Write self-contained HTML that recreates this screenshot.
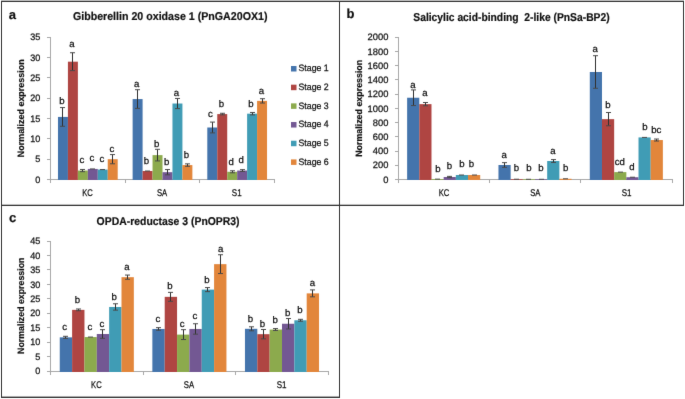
<!DOCTYPE html>
<html><head><meta charset="utf-8"><title>Figure</title>
<style>
html,body{margin:0;padding:0;background:#fff;}
body{width:685px;height:399px;overflow:hidden;}
svg{display:block;font-family:"Liberation Sans", sans-serif;will-change:transform;text-rendering:geometricPrecision;}
</style></head>
<body>
<svg width="685" height="399" viewBox="0 0 685 399">
<defs><filter id="soft" x="0" y="0" width="685" height="399" filterUnits="userSpaceOnUse" color-interpolation-filters="sRGB"><feConvolveMatrix order="3" kernelMatrix="0.0052 0.0619 0.0052 0.0619 0.7314 0.0619 0.0052 0.0619 0.0052" divisor="1" preserveAlpha="false"/></filter></defs>
<rect x="0" y="0" width="685" height="399" fill="#ffffff"/>
<g filter="url(#soft)">
<rect x="50" y="37" width="1" height="146" fill="#a8a8a8"/>
<rect x="50" y="179" width="225" height="1" fill="#a8a8a8"/>
<rect x="47" y="179" width="3" height="1" fill="#a8a8a8"/>
<text x="40.3" y="182.6" font-size="9.4" text-anchor="end" font-weight="normal" fill="#111111" textLength="5.05" lengthAdjust="spacingAndGlyphs" stroke="#111111" stroke-width="0.25">0</text>
<rect x="47" y="159" width="3" height="1" fill="#a8a8a8"/>
<text x="40.3" y="162.29" font-size="9.4" text-anchor="end" font-weight="normal" fill="#111111" textLength="5.05" lengthAdjust="spacingAndGlyphs" stroke="#111111" stroke-width="0.25">5</text>
<rect x="47" y="138" width="3" height="1" fill="#a8a8a8"/>
<text x="40.3" y="141.97" font-size="9.4" text-anchor="end" font-weight="normal" fill="#111111" textLength="10.1" lengthAdjust="spacingAndGlyphs" stroke="#111111" stroke-width="0.25">10</text>
<rect x="47" y="118" width="3" height="1" fill="#a8a8a8"/>
<text x="40.3" y="121.66" font-size="9.4" text-anchor="end" font-weight="normal" fill="#111111" textLength="10.1" lengthAdjust="spacingAndGlyphs" stroke="#111111" stroke-width="0.25">15</text>
<rect x="47" y="98" width="3" height="1" fill="#a8a8a8"/>
<text x="40.3" y="101.34" font-size="9.4" text-anchor="end" font-weight="normal" fill="#111111" textLength="10.1" lengthAdjust="spacingAndGlyphs" stroke="#111111" stroke-width="0.25">20</text>
<rect x="47" y="77" width="3" height="1" fill="#a8a8a8"/>
<text x="40.3" y="81.03" font-size="9.4" text-anchor="end" font-weight="normal" fill="#111111" textLength="10.1" lengthAdjust="spacingAndGlyphs" stroke="#111111" stroke-width="0.25">25</text>
<rect x="47" y="57" width="3" height="1" fill="#a8a8a8"/>
<text x="40.3" y="60.71" font-size="9.4" text-anchor="end" font-weight="normal" fill="#111111" textLength="10.1" lengthAdjust="spacingAndGlyphs" stroke="#111111" stroke-width="0.25">30</text>
<rect x="47" y="37" width="3" height="1" fill="#a8a8a8"/>
<text x="40.3" y="40.4" font-size="9.4" text-anchor="end" font-weight="normal" fill="#111111" textLength="10.1" lengthAdjust="spacingAndGlyphs" stroke="#111111" stroke-width="0.25">35</text>
<rect x="50" y="180" width="1" height="3" fill="#a8a8a8"/>
<rect x="125" y="180" width="1" height="3" fill="#a8a8a8"/>
<rect x="199" y="180" width="1" height="3" fill="#a8a8a8"/>
<rect x="274" y="180" width="1" height="3" fill="#a8a8a8"/>
<rect x="57.97" y="116.93" width="9.96" height="63.07" fill="#4474ac"/>
<rect x="67.92" y="61.68" width="9.96" height="118.32" fill="#af4542"/>
<rect x="77.88" y="170.56" width="9.96" height="9.44" fill="#8caa4d"/>
<rect x="87.83" y="168.94" width="9.96" height="11.06" fill="#735893"/>
<rect x="97.79" y="169.55" width="9.96" height="10.45" fill="#409cb5"/>
<rect x="107.74" y="159.19" width="9.96" height="20.81" fill="#e2863b"/>
<rect x="132.63" y="99.06" width="9.96" height="80.94" fill="#4474ac"/>
<rect x="142.59" y="171.01" width="9.96" height="8.99" fill="#af4542"/>
<rect x="152.54" y="155.12" width="9.96" height="24.88" fill="#8caa4d"/>
<rect x="162.5" y="172.19" width="9.96" height="7.81" fill="#735893"/>
<rect x="172.46" y="103.52" width="9.96" height="76.48" fill="#409cb5"/>
<rect x="182.41" y="165.08" width="9.96" height="14.92" fill="#e2863b"/>
<rect x="207.3" y="127.5" width="9.96" height="52.5" fill="#4474ac"/>
<rect x="217.26" y="114.09" width="9.96" height="65.91" fill="#af4542"/>
<rect x="227.21" y="171.78" width="9.96" height="8.22" fill="#8caa4d"/>
<rect x="237.17" y="170.56" width="9.96" height="9.44" fill="#735893"/>
<rect x="247.12" y="113.68" width="9.96" height="66.32" fill="#409cb5"/>
<rect x="257.08" y="100.88" width="9.96" height="79.12" fill="#e2863b"/>
<path d="M62.5 107.59V126.28" stroke="#303030" stroke-width="1" fill="none"/>
<path d="M60 107.59H65M60 126.28H65" stroke="#4a4a4a" stroke-width="1" fill="none"/>
<path d="M72.5 52.74V70.62" stroke="#303030" stroke-width="1" fill="none"/>
<path d="M70 52.74H75M70 70.62H75" stroke="#4a4a4a" stroke-width="1" fill="none"/>
<path d="M82.5 169.46V171.66" stroke="#303030" stroke-width="1" fill="none"/>
<path d="M80 169.46H85M80 171.66H85" stroke="#4a4a4a" stroke-width="1" fill="none"/>
<path d="M90 168.94H95" stroke="#4a4a4a" stroke-width="1" fill="none"/>
<path d="M100 169.55H105" stroke="#4a4a4a" stroke-width="1" fill="none"/>
<path d="M112.5 154.59V163.78" stroke="#303030" stroke-width="1" fill="none"/>
<path d="M110 154.59H115M110 163.78H115" stroke="#4a4a4a" stroke-width="1" fill="none"/>
<path d="M137.5 89.71V108.4" stroke="#303030" stroke-width="1" fill="none"/>
<path d="M135 89.71H140M135 108.4H140" stroke="#4a4a4a" stroke-width="1" fill="none"/>
<path d="M145 171.01H150" stroke="#4a4a4a" stroke-width="1" fill="none"/>
<path d="M157.5 149.31V160.93" stroke="#303030" stroke-width="1" fill="none"/>
<path d="M155 149.31H160M155 160.93H160" stroke="#4a4a4a" stroke-width="1" fill="none"/>
<path d="M167.5 169.55V174.83" stroke="#303030" stroke-width="1" fill="none"/>
<path d="M165 169.55H170M165 174.83H170" stroke="#4a4a4a" stroke-width="1" fill="none"/>
<path d="M177.5 98.45V108.6" stroke="#303030" stroke-width="1" fill="none"/>
<path d="M175 98.45H180M175 108.6H180" stroke="#4a4a4a" stroke-width="1" fill="none"/>
<path d="M187.5 163.86V166.3" stroke="#303030" stroke-width="1" fill="none"/>
<path d="M185 163.86H190M185 166.3H190" stroke="#4a4a4a" stroke-width="1" fill="none"/>
<path d="M212.5 122.09V132.9" stroke="#303030" stroke-width="1" fill="none"/>
<path d="M210 122.09H215M210 132.9H215" stroke="#4a4a4a" stroke-width="1" fill="none"/>
<path d="M222.5 113.28V114.9" stroke="#303030" stroke-width="1" fill="none"/>
<path d="M220 113.28H225M220 114.9H225" stroke="#4a4a4a" stroke-width="1" fill="none"/>
<path d="M232.5 170.76V172.8" stroke="#303030" stroke-width="1" fill="none"/>
<path d="M230 170.76H235M230 172.8H235" stroke="#4a4a4a" stroke-width="1" fill="none"/>
<path d="M242.5 169.63V171.5" stroke="#303030" stroke-width="1" fill="none"/>
<path d="M240 169.63H245M240 171.5H245" stroke="#4a4a4a" stroke-width="1" fill="none"/>
<path d="M252.5 112.46V114.9" stroke="#303030" stroke-width="1" fill="none"/>
<path d="M250 112.46H255M250 114.9H255" stroke="#4a4a4a" stroke-width="1" fill="none"/>
<path d="M262.5 98.73V103.04" stroke="#303030" stroke-width="1" fill="none"/>
<path d="M260 98.73H265M260 103.04H265" stroke="#4a4a4a" stroke-width="1" fill="none"/>
<text x="62" y="103.9" font-size="9.6" text-anchor="middle" font-weight="normal" fill="#111111" stroke="#111111" stroke-width="0.25">b</text>
<text x="72" y="46.9" font-size="9.6" text-anchor="middle" font-weight="normal" fill="#111111" stroke="#111111" stroke-width="0.25">a</text>
<text x="82" y="162.9" font-size="9.6" text-anchor="middle" font-weight="normal" fill="#111111" stroke="#111111" stroke-width="0.25">c</text>
<text x="91.8" y="160.9" font-size="9.6" text-anchor="middle" font-weight="normal" fill="#111111" stroke="#111111" stroke-width="0.25">c</text>
<text x="101.9" y="161.9" font-size="9.6" text-anchor="middle" font-weight="normal" fill="#111111" stroke="#111111" stroke-width="0.25">c</text>
<text x="111.9" y="151.9" font-size="9.6" text-anchor="middle" font-weight="normal" fill="#111111" stroke="#111111" stroke-width="0.25">c</text>
<text x="136.7" y="86.8" font-size="9.6" text-anchor="middle" font-weight="normal" fill="#111111" stroke="#111111" stroke-width="0.25">a</text>
<text x="146.4" y="163.7" font-size="9.6" text-anchor="middle" font-weight="normal" fill="#111111" stroke="#111111" stroke-width="0.25">b</text>
<text x="156.7" y="147.2" font-size="9.6" text-anchor="middle" font-weight="normal" fill="#111111" stroke="#111111" stroke-width="0.25">b</text>
<text x="166.6" y="164.7" font-size="9.6" text-anchor="middle" font-weight="normal" fill="#111111" stroke="#111111" stroke-width="0.25">b</text>
<text x="176.5" y="95.9" font-size="9.6" text-anchor="middle" font-weight="normal" fill="#111111" stroke="#111111" stroke-width="0.25">a</text>
<text x="186.4" y="157.5" font-size="9.6" text-anchor="middle" font-weight="normal" fill="#111111" stroke="#111111" stroke-width="0.25">b</text>
<text x="210.5" y="117.4" font-size="9.6" text-anchor="middle" font-weight="normal" fill="#111111" stroke="#111111" stroke-width="0.25">c</text>
<text x="221.5" y="106.8" font-size="9.6" text-anchor="middle" font-weight="normal" fill="#111111" stroke="#111111" stroke-width="0.25">b</text>
<text x="231.1" y="164.7" font-size="9.6" text-anchor="middle" font-weight="normal" fill="#111111" stroke="#111111" stroke-width="0.25">d</text>
<text x="241.2" y="163.3" font-size="9.6" text-anchor="middle" font-weight="normal" fill="#111111" stroke="#111111" stroke-width="0.25">d</text>
<text x="250.9" y="106.8" font-size="9.6" text-anchor="middle" font-weight="normal" fill="#111111" stroke="#111111" stroke-width="0.25">b</text>
<text x="261.3" y="94" font-size="9.6" text-anchor="middle" font-weight="normal" fill="#111111" stroke="#111111" stroke-width="0.25">a</text>
<text x="87.43" y="195.8" font-size="9.7" text-anchor="middle" font-weight="normal" fill="#111111" textLength="10.6" lengthAdjust="spacingAndGlyphs" stroke="#111111" stroke-width="0.25">KC</text>
<text x="162.1" y="195.8" font-size="9.7" text-anchor="middle" font-weight="normal" fill="#111111" textLength="10.3" lengthAdjust="spacingAndGlyphs" stroke="#111111" stroke-width="0.25">SA</text>
<text x="236.77" y="195.8" font-size="9.7" text-anchor="middle" font-weight="normal" fill="#111111" textLength="9.8" lengthAdjust="spacingAndGlyphs" stroke="#111111" stroke-width="0.25">S1</text>
<text x="170.2" y="20.3" font-size="11.3" text-anchor="middle" font-weight="bold" fill="#111111" textLength="194.6" lengthAdjust="spacingAndGlyphs" stroke="#111111" stroke-width="0.2">Gibberellin 20 oxidase 1 (PnGA20OX1)</text>
<text transform="translate(24.3 108.3) rotate(-90)" x="0" y="0" font-size="9.2" font-weight="bold" text-anchor="middle" textLength="97.8" lengthAdjust="spacingAndGlyphs" fill="#111111" stroke="#111111" stroke-width="0.2">Normalized expression</text>
<text x="8.8" y="18.8" font-size="13" text-anchor="start" font-weight="bold" fill="#111111" stroke="#111111" stroke-width="0.2">a</text>
<rect x="398" y="37" width="1" height="146" fill="#a8a8a8"/>
<rect x="398" y="179" width="275" height="1" fill="#a8a8a8"/>
<rect x="395" y="179" width="3" height="1" fill="#a8a8a8"/>
<text x="388.4" y="182.6" font-size="9.4" text-anchor="end" font-weight="normal" fill="#111111" textLength="5.2" lengthAdjust="spacingAndGlyphs" stroke="#111111" stroke-width="0.25">0</text>
<rect x="395" y="165" width="3" height="1" fill="#a8a8a8"/>
<text x="388.4" y="168.38" font-size="9.4" text-anchor="end" font-weight="normal" fill="#111111" textLength="15.6" lengthAdjust="spacingAndGlyphs" stroke="#111111" stroke-width="0.25">200</text>
<rect x="395" y="151" width="3" height="1" fill="#a8a8a8"/>
<text x="388.4" y="154.16" font-size="9.4" text-anchor="end" font-weight="normal" fill="#111111" textLength="15.6" lengthAdjust="spacingAndGlyphs" stroke="#111111" stroke-width="0.25">400</text>
<rect x="395" y="136" width="3" height="1" fill="#a8a8a8"/>
<text x="388.4" y="139.94" font-size="9.4" text-anchor="end" font-weight="normal" fill="#111111" textLength="15.6" lengthAdjust="spacingAndGlyphs" stroke="#111111" stroke-width="0.25">600</text>
<rect x="395" y="122" width="3" height="1" fill="#a8a8a8"/>
<text x="388.4" y="125.72" font-size="9.4" text-anchor="end" font-weight="normal" fill="#111111" textLength="15.6" lengthAdjust="spacingAndGlyphs" stroke="#111111" stroke-width="0.25">800</text>
<rect x="395" y="108" width="3" height="1" fill="#a8a8a8"/>
<text x="388.4" y="111.5" font-size="9.4" text-anchor="end" font-weight="normal" fill="#111111" textLength="20.8" lengthAdjust="spacingAndGlyphs" stroke="#111111" stroke-width="0.25">1000</text>
<rect x="395" y="94" width="3" height="1" fill="#a8a8a8"/>
<text x="388.4" y="97.28" font-size="9.4" text-anchor="end" font-weight="normal" fill="#111111" textLength="20.8" lengthAdjust="spacingAndGlyphs" stroke="#111111" stroke-width="0.25">1200</text>
<rect x="395" y="79" width="3" height="1" fill="#a8a8a8"/>
<text x="388.4" y="83.06" font-size="9.4" text-anchor="end" font-weight="normal" fill="#111111" textLength="20.8" lengthAdjust="spacingAndGlyphs" stroke="#111111" stroke-width="0.25">1400</text>
<rect x="395" y="65" width="3" height="1" fill="#a8a8a8"/>
<text x="388.4" y="68.84" font-size="9.4" text-anchor="end" font-weight="normal" fill="#111111" textLength="20.8" lengthAdjust="spacingAndGlyphs" stroke="#111111" stroke-width="0.25">1600</text>
<rect x="395" y="51" width="3" height="1" fill="#a8a8a8"/>
<text x="388.4" y="54.62" font-size="9.4" text-anchor="end" font-weight="normal" fill="#111111" textLength="20.8" lengthAdjust="spacingAndGlyphs" stroke="#111111" stroke-width="0.25">1800</text>
<rect x="395" y="37" width="3" height="1" fill="#a8a8a8"/>
<text x="388.4" y="40.4" font-size="9.4" text-anchor="end" font-weight="normal" fill="#111111" textLength="20.8" lengthAdjust="spacingAndGlyphs" stroke="#111111" stroke-width="0.25">2000</text>
<rect x="398" y="180" width="1" height="3" fill="#a8a8a8"/>
<rect x="489" y="180" width="1" height="3" fill="#a8a8a8"/>
<rect x="580" y="180" width="1" height="3" fill="#a8a8a8"/>
<rect x="672" y="180" width="1" height="3" fill="#a8a8a8"/>
<rect x="407.13" y="97.73" width="12.18" height="82.27" fill="#4474ac"/>
<rect x="419.31" y="104.13" width="12.18" height="75.87" fill="#af4542"/>
<rect x="431.49" y="179.14" width="12.18" height="0.86" fill="#8caa4d"/>
<rect x="443.67" y="177.01" width="12.18" height="2.99" fill="#735893"/>
<rect x="455.84" y="175.02" width="12.18" height="4.98" fill="#409cb5"/>
<rect x="468.02" y="175.02" width="12.18" height="4.98" fill="#e2863b"/>
<rect x="498.47" y="165" width="12.18" height="15" fill="#4474ac"/>
<rect x="510.64" y="179.22" width="12.18" height="0.78" fill="#af4542"/>
<rect x="522.82" y="179.29" width="12.18" height="0.71" fill="#8caa4d"/>
<rect x="535" y="179.29" width="12.18" height="0.71" fill="#735893"/>
<rect x="547.18" y="161.01" width="12.18" height="18.99" fill="#409cb5"/>
<rect x="559.36" y="178.79" width="12.18" height="1.21" fill="#e2863b"/>
<rect x="589.8" y="72" width="12.18" height="108" fill="#4474ac"/>
<rect x="601.98" y="119.14" width="12.18" height="60.86" fill="#af4542"/>
<rect x="614.16" y="172.11" width="12.18" height="7.89" fill="#8caa4d"/>
<rect x="626.33" y="177.22" width="12.18" height="2.78" fill="#735893"/>
<rect x="638.51" y="137.41" width="12.18" height="42.59" fill="#409cb5"/>
<rect x="650.69" y="140.04" width="12.18" height="39.96" fill="#e2863b"/>
<path d="M413.5 89.91V105.56" stroke="#303030" stroke-width="1" fill="none"/>
<path d="M411 89.91H416M411 105.56H416" stroke="#4a4a4a" stroke-width="1" fill="none"/>
<path d="M425.5 102.5V105.77" stroke="#303030" stroke-width="1" fill="none"/>
<path d="M423 102.5H428M423 105.77H428" stroke="#4a4a4a" stroke-width="1" fill="none"/>
<path d="M435 179.14H440" stroke="#4a4a4a" stroke-width="1" fill="none"/>
<path d="M449.5 176.37V177.65" stroke="#303030" stroke-width="1" fill="none"/>
<path d="M447 176.37H452M447 177.65H452" stroke="#4a4a4a" stroke-width="1" fill="none"/>
<path d="M459 175.02H464" stroke="#4a4a4a" stroke-width="1" fill="none"/>
<path d="M472 175.02H477" stroke="#4a4a4a" stroke-width="1" fill="none"/>
<path d="M504.5 162.65V167.34" stroke="#303030" stroke-width="1" fill="none"/>
<path d="M502 162.65H507M502 167.34H507" stroke="#4a4a4a" stroke-width="1" fill="none"/>
<path d="M514 179.22H519" stroke="#4a4a4a" stroke-width="1" fill="none"/>
<path d="M526 179.29H531" stroke="#4a4a4a" stroke-width="1" fill="none"/>
<path d="M539 179.29H544" stroke="#4a4a4a" stroke-width="1" fill="none"/>
<path d="M553.5 159.59V162.44" stroke="#303030" stroke-width="1" fill="none"/>
<path d="M551 159.59H556M551 162.44H556" stroke="#4a4a4a" stroke-width="1" fill="none"/>
<path d="M563 178.79H568" stroke="#4a4a4a" stroke-width="1" fill="none"/>
<path d="M595.5 55.71V88.28" stroke="#303030" stroke-width="1" fill="none"/>
<path d="M593 55.71H598M593 88.28H598" stroke="#4a4a4a" stroke-width="1" fill="none"/>
<path d="M608.5 112.52V125.75" stroke="#303030" stroke-width="1" fill="none"/>
<path d="M606 112.52H611M606 125.75H611" stroke="#4a4a4a" stroke-width="1" fill="none"/>
<path d="M618 172.11H623" stroke="#4a4a4a" stroke-width="1" fill="none"/>
<path d="M630 177.22H635" stroke="#4a4a4a" stroke-width="1" fill="none"/>
<path d="M642 137.41H647" stroke="#4a4a4a" stroke-width="1" fill="none"/>
<path d="M656.5 139.04V141.03" stroke="#303030" stroke-width="1" fill="none"/>
<path d="M654 139.04H659M654 141.03H659" stroke="#4a4a4a" stroke-width="1" fill="none"/>
<text x="412.8" y="87.9" font-size="9.6" text-anchor="middle" font-weight="normal" fill="#111111" stroke="#111111" stroke-width="0.25">a</text>
<text x="425" y="96.4" font-size="9.6" text-anchor="middle" font-weight="normal" fill="#111111" stroke="#111111" stroke-width="0.25">a</text>
<text x="437.9" y="171.9" font-size="9.6" text-anchor="middle" font-weight="normal" fill="#111111" stroke="#111111" stroke-width="0.25">b</text>
<text x="449.5" y="169.4" font-size="9.6" text-anchor="middle" font-weight="normal" fill="#111111" stroke="#111111" stroke-width="0.25">b</text>
<text x="461.9" y="167.4" font-size="9.6" text-anchor="middle" font-weight="normal" fill="#111111" stroke="#111111" stroke-width="0.25">b</text>
<text x="471.3" y="167.4" font-size="9.6" text-anchor="middle" font-weight="normal" fill="#111111" stroke="#111111" stroke-width="0.25">b</text>
<text x="504.1" y="157.6" font-size="9.6" text-anchor="middle" font-weight="normal" fill="#111111" stroke="#111111" stroke-width="0.25">a</text>
<text x="516.5" y="171.4" font-size="9.6" text-anchor="middle" font-weight="normal" fill="#111111" stroke="#111111" stroke-width="0.25">b</text>
<text x="529" y="171.4" font-size="9.6" text-anchor="middle" font-weight="normal" fill="#111111" stroke="#111111" stroke-width="0.25">b</text>
<text x="540.9" y="171.4" font-size="9.6" text-anchor="middle" font-weight="normal" fill="#111111" stroke="#111111" stroke-width="0.25">b</text>
<text x="553" y="153.7" font-size="9.6" text-anchor="middle" font-weight="normal" fill="#111111" stroke="#111111" stroke-width="0.25">a</text>
<text x="565.6" y="171.4" font-size="9.6" text-anchor="middle" font-weight="normal" fill="#111111" stroke="#111111" stroke-width="0.25">b</text>
<text x="595.2" y="52.1" font-size="9.6" text-anchor="middle" font-weight="normal" fill="#111111" stroke="#111111" stroke-width="0.25">a</text>
<text x="607.8" y="107.9" font-size="9.6" text-anchor="middle" font-weight="normal" fill="#111111" stroke="#111111" stroke-width="0.25">b</text>
<text x="619.8" y="164.8" font-size="9.6" text-anchor="middle" font-weight="normal" fill="#111111" stroke="#111111" stroke-width="0.25">cd</text>
<text x="632" y="170.1" font-size="9.6" text-anchor="middle" font-weight="normal" fill="#111111" stroke="#111111" stroke-width="0.25">d</text>
<text x="644.8" y="130.3" font-size="9.6" text-anchor="middle" font-weight="normal" fill="#111111" stroke="#111111" stroke-width="0.25">b</text>
<text x="656.2" y="133.3" font-size="9.6" text-anchor="middle" font-weight="normal" fill="#111111" stroke="#111111" stroke-width="0.25">bc</text>
<text x="443.97" y="196" font-size="9.7" text-anchor="middle" font-weight="normal" fill="#111111" textLength="10.6" lengthAdjust="spacingAndGlyphs" stroke="#111111" stroke-width="0.25">KC</text>
<text x="535.3" y="196" font-size="9.7" text-anchor="middle" font-weight="normal" fill="#111111" textLength="10.3" lengthAdjust="spacingAndGlyphs" stroke="#111111" stroke-width="0.25">SA</text>
<text x="626.63" y="196" font-size="9.7" text-anchor="middle" font-weight="normal" fill="#111111" textLength="9.8" lengthAdjust="spacingAndGlyphs" stroke="#111111" stroke-width="0.25">S1</text>
<text x="511.45" y="20.6" font-size="11.3" text-anchor="middle" font-weight="bold" fill="#111111" textLength="196.3" lengthAdjust="spacingAndGlyphs" stroke="#111111" stroke-width="0.2">Salicylic acid-binding&#160; 2-like (PnSa-BP2)</text>
<text transform="translate(362 108.3) rotate(-90)" x="0" y="0" font-size="9.2" font-weight="bold" text-anchor="middle" textLength="97" lengthAdjust="spacingAndGlyphs" fill="#111111" stroke="#111111" stroke-width="0.2">Normalized expression</text>
<text x="346.6" y="18.2" font-size="13" text-anchor="start" font-weight="bold" fill="#111111" stroke="#111111" stroke-width="0.2">b</text>
<rect x="50" y="241" width="1" height="134" fill="#a8a8a8"/>
<rect x="50" y="371" width="279" height="1" fill="#a8a8a8"/>
<rect x="47" y="371" width="3" height="1" fill="#a8a8a8"/>
<text x="40.3" y="374.3" font-size="9.4" text-anchor="end" font-weight="normal" fill="#111111" textLength="5.05" lengthAdjust="spacingAndGlyphs" stroke="#111111" stroke-width="0.25">0</text>
<rect x="47" y="356" width="3" height="1" fill="#a8a8a8"/>
<text x="40.3" y="359.83" font-size="9.4" text-anchor="end" font-weight="normal" fill="#111111" textLength="5.05" lengthAdjust="spacingAndGlyphs" stroke="#111111" stroke-width="0.25">5</text>
<rect x="47" y="342" width="3" height="1" fill="#a8a8a8"/>
<text x="40.3" y="345.37" font-size="9.4" text-anchor="end" font-weight="normal" fill="#111111" textLength="10.1" lengthAdjust="spacingAndGlyphs" stroke="#111111" stroke-width="0.25">10</text>
<rect x="47" y="327" width="3" height="1" fill="#a8a8a8"/>
<text x="40.3" y="330.9" font-size="9.4" text-anchor="end" font-weight="normal" fill="#111111" textLength="10.1" lengthAdjust="spacingAndGlyphs" stroke="#111111" stroke-width="0.25">15</text>
<rect x="47" y="313" width="3" height="1" fill="#a8a8a8"/>
<text x="40.3" y="316.43" font-size="9.4" text-anchor="end" font-weight="normal" fill="#111111" textLength="10.1" lengthAdjust="spacingAndGlyphs" stroke="#111111" stroke-width="0.25">20</text>
<rect x="47" y="298" width="3" height="1" fill="#a8a8a8"/>
<text x="40.3" y="301.97" font-size="9.4" text-anchor="end" font-weight="normal" fill="#111111" textLength="10.1" lengthAdjust="spacingAndGlyphs" stroke="#111111" stroke-width="0.25">25</text>
<rect x="47" y="284" width="3" height="1" fill="#a8a8a8"/>
<text x="40.3" y="287.5" font-size="9.4" text-anchor="end" font-weight="normal" fill="#111111" textLength="10.1" lengthAdjust="spacingAndGlyphs" stroke="#111111" stroke-width="0.25">30</text>
<rect x="47" y="269" width="3" height="1" fill="#a8a8a8"/>
<text x="40.3" y="273.03" font-size="9.4" text-anchor="end" font-weight="normal" fill="#111111" textLength="10.1" lengthAdjust="spacingAndGlyphs" stroke="#111111" stroke-width="0.25">35</text>
<rect x="47" y="255" width="3" height="1" fill="#a8a8a8"/>
<text x="40.3" y="258.57" font-size="9.4" text-anchor="end" font-weight="normal" fill="#111111" textLength="10.1" lengthAdjust="spacingAndGlyphs" stroke="#111111" stroke-width="0.25">40</text>
<rect x="47" y="241" width="3" height="1" fill="#a8a8a8"/>
<text x="40.3" y="244.1" font-size="9.4" text-anchor="end" font-weight="normal" fill="#111111" textLength="10.1" lengthAdjust="spacingAndGlyphs" stroke="#111111" stroke-width="0.25">45</text>
<rect x="50" y="372" width="1" height="3" fill="#a8a8a8"/>
<rect x="143" y="372" width="1" height="3" fill="#a8a8a8"/>
<rect x="235" y="372" width="1" height="3" fill="#a8a8a8"/>
<rect x="328" y="372" width="1" height="3" fill="#a8a8a8"/>
<rect x="59.76" y="337.35" width="12.35" height="34.65" fill="#4474ac"/>
<rect x="72.11" y="309.86" width="12.35" height="62.14" fill="#af4542"/>
<rect x="84.45" y="337.06" width="12.35" height="34.94" fill="#8caa4d"/>
<rect x="96.8" y="334.02" width="12.35" height="37.98" fill="#735893"/>
<rect x="109.15" y="306.97" width="12.35" height="65.03" fill="#409cb5"/>
<rect x="121.49" y="277.17" width="12.35" height="94.83" fill="#e2863b"/>
<rect x="152.36" y="328.96" width="12.35" height="43.04" fill="#4474ac"/>
<rect x="164.71" y="296.84" width="12.35" height="75.16" fill="#af4542"/>
<rect x="177.05" y="334.6" width="12.35" height="37.4" fill="#8caa4d"/>
<rect x="189.4" y="328.96" width="12.35" height="43.04" fill="#735893"/>
<rect x="201.75" y="289.61" width="12.35" height="82.39" fill="#409cb5"/>
<rect x="214.09" y="264.15" width="12.35" height="107.85" fill="#e2863b"/>
<rect x="244.96" y="328.81" width="12.35" height="43.19" fill="#4474ac"/>
<rect x="257.31" y="334.17" width="12.35" height="37.83" fill="#af4542"/>
<rect x="269.65" y="329.54" width="12.35" height="42.46" fill="#8caa4d"/>
<rect x="282" y="323.75" width="12.35" height="48.25" fill="#735893"/>
<rect x="294.35" y="320.28" width="12.35" height="51.72" fill="#409cb5"/>
<rect x="306.69" y="293.37" width="12.35" height="78.63" fill="#e2863b"/>
<path d="M65.5 336.31V338.39" stroke="#303030" stroke-width="1" fill="none"/>
<path d="M63 336.31H68M63 338.39H68" stroke="#4a4a4a" stroke-width="1" fill="none"/>
<path d="M78.5 308.99V310.73" stroke="#303030" stroke-width="1" fill="none"/>
<path d="M76 308.99H81M76 310.73H81" stroke="#4a4a4a" stroke-width="1" fill="none"/>
<path d="M88 337.06H93" stroke="#4a4a4a" stroke-width="1" fill="none"/>
<path d="M102.5 329.68V338.36" stroke="#303030" stroke-width="1" fill="none"/>
<path d="M100 329.68H105M100 338.36H105" stroke="#4a4a4a" stroke-width="1" fill="none"/>
<path d="M115.5 303.79V310.15" stroke="#303030" stroke-width="1" fill="none"/>
<path d="M113 303.79H118M113 310.15H118" stroke="#4a4a4a" stroke-width="1" fill="none"/>
<path d="M127.5 275.05V279.28" stroke="#303030" stroke-width="1" fill="none"/>
<path d="M125 275.05H130M125 279.28H130" stroke="#4a4a4a" stroke-width="1" fill="none"/>
<path d="M158.5 327.66V330.26" stroke="#303030" stroke-width="1" fill="none"/>
<path d="M156 327.66H161M156 330.26H161" stroke="#4a4a4a" stroke-width="1" fill="none"/>
<path d="M170.5 292.36V301.33" stroke="#303030" stroke-width="1" fill="none"/>
<path d="M168 292.36H173M168 301.33H173" stroke="#4a4a4a" stroke-width="1" fill="none"/>
<path d="M183.5 329.68V339.52" stroke="#303030" stroke-width="1" fill="none"/>
<path d="M181 329.68H186M181 339.52H186" stroke="#4a4a4a" stroke-width="1" fill="none"/>
<path d="M195.5 323.75V334.17" stroke="#303030" stroke-width="1" fill="none"/>
<path d="M193 323.75H198M193 334.17H198" stroke="#4a4a4a" stroke-width="1" fill="none"/>
<path d="M207.5 287.58V291.63" stroke="#303030" stroke-width="1" fill="none"/>
<path d="M205 287.58H210M205 291.63H210" stroke="#4a4a4a" stroke-width="1" fill="none"/>
<path d="M220.5 254.74V273.55" stroke="#303030" stroke-width="1" fill="none"/>
<path d="M218 254.74H223M218 273.55H223" stroke="#4a4a4a" stroke-width="1" fill="none"/>
<path d="M251.5 326.82V330.81" stroke="#303030" stroke-width="1" fill="none"/>
<path d="M249 326.82H254M249 330.81H254" stroke="#4a4a4a" stroke-width="1" fill="none"/>
<path d="M263.5 329.48V338.85" stroke="#303030" stroke-width="1" fill="none"/>
<path d="M261 329.48H266M261 338.85H266" stroke="#4a4a4a" stroke-width="1" fill="none"/>
<path d="M275.5 328.58V330.49" stroke="#303030" stroke-width="1" fill="none"/>
<path d="M273 328.58H278M273 330.49H278" stroke="#4a4a4a" stroke-width="1" fill="none"/>
<path d="M288.5 318.54V328.96" stroke="#303030" stroke-width="1" fill="none"/>
<path d="M286 318.54H291M286 328.96H291" stroke="#4a4a4a" stroke-width="1" fill="none"/>
<path d="M300.5 319.32V321.23" stroke="#303030" stroke-width="1" fill="none"/>
<path d="M298 319.32H303M298 321.23H303" stroke="#4a4a4a" stroke-width="1" fill="none"/>
<path d="M312.5 289.9V296.84" stroke="#303030" stroke-width="1" fill="none"/>
<path d="M310 289.9H315M310 296.84H315" stroke="#4a4a4a" stroke-width="1" fill="none"/>
<text x="64.75" y="330" font-size="9.6" text-anchor="middle" font-weight="normal" fill="#111111" stroke="#111111" stroke-width="0.25">c</text>
<text x="77.3" y="302.9" font-size="9.6" text-anchor="middle" font-weight="normal" fill="#111111" stroke="#111111" stroke-width="0.25">b</text>
<text x="89.8" y="330" font-size="9.6" text-anchor="middle" font-weight="normal" fill="#111111" stroke="#111111" stroke-width="0.25">c</text>
<text x="101.85" y="327.3" font-size="9.6" text-anchor="middle" font-weight="normal" fill="#111111" stroke="#111111" stroke-width="0.25">c</text>
<text x="114.2" y="300" font-size="9.6" text-anchor="middle" font-weight="normal" fill="#111111" stroke="#111111" stroke-width="0.25">b</text>
<text x="127" y="269.9" font-size="9.6" text-anchor="middle" font-weight="normal" fill="#111111" stroke="#111111" stroke-width="0.25">a</text>
<text x="157.85" y="322.3" font-size="9.6" text-anchor="middle" font-weight="normal" fill="#111111" stroke="#111111" stroke-width="0.25">c</text>
<text x="169.85" y="289.4" font-size="9.6" text-anchor="middle" font-weight="normal" fill="#111111" stroke="#111111" stroke-width="0.25">b</text>
<text x="182.2" y="327.2" font-size="9.6" text-anchor="middle" font-weight="normal" fill="#111111" stroke="#111111" stroke-width="0.25">c</text>
<text x="194.8" y="318.7" font-size="9.6" text-anchor="middle" font-weight="normal" fill="#111111" stroke="#111111" stroke-width="0.25">c</text>
<text x="207" y="282.5" font-size="9.6" text-anchor="middle" font-weight="normal" fill="#111111" stroke="#111111" stroke-width="0.25">b</text>
<text x="220.6" y="251.9" font-size="9.6" text-anchor="middle" font-weight="normal" fill="#111111" stroke="#111111" stroke-width="0.25">a</text>
<text x="250.3" y="321.8" font-size="9.6" text-anchor="middle" font-weight="normal" fill="#111111" stroke="#111111" stroke-width="0.25">b</text>
<text x="262.5" y="326.9" font-size="9.6" text-anchor="middle" font-weight="normal" fill="#111111" stroke="#111111" stroke-width="0.25">b</text>
<text x="275.2" y="322.5" font-size="9.6" text-anchor="middle" font-weight="normal" fill="#111111" stroke="#111111" stroke-width="0.25">b</text>
<text x="287.6" y="316.2" font-size="9.6" text-anchor="middle" font-weight="normal" fill="#111111" stroke="#111111" stroke-width="0.25">b</text>
<text x="299.9" y="313.1" font-size="9.6" text-anchor="middle" font-weight="normal" fill="#111111" stroke="#111111" stroke-width="0.25">b</text>
<text x="312.4" y="286.1" font-size="9.6" text-anchor="middle" font-weight="normal" fill="#111111" stroke="#111111" stroke-width="0.25">a</text>
<text x="96.4" y="388.2" font-size="9.7" text-anchor="middle" font-weight="normal" fill="#111111" textLength="10.6" lengthAdjust="spacingAndGlyphs" stroke="#111111" stroke-width="0.25">KC</text>
<text x="189" y="388.2" font-size="9.7" text-anchor="middle" font-weight="normal" fill="#111111" textLength="10.3" lengthAdjust="spacingAndGlyphs" stroke="#111111" stroke-width="0.25">SA</text>
<text x="281.6" y="388.2" font-size="9.7" text-anchor="middle" font-weight="normal" fill="#111111" textLength="9.8" lengthAdjust="spacingAndGlyphs" stroke="#111111" stroke-width="0.25">S1</text>
<text x="168.1" y="224.5" font-size="11.3" text-anchor="middle" font-weight="bold" fill="#111111" textLength="143" lengthAdjust="spacingAndGlyphs" stroke="#111111" stroke-width="0.2">OPDA-reductase 3 (PnOPR3)</text>
<text transform="translate(24.3 305.75) rotate(-90)" x="0" y="0" font-size="9.2" font-weight="bold" text-anchor="middle" textLength="96.3" lengthAdjust="spacingAndGlyphs" fill="#111111" stroke="#111111" stroke-width="0.2">Normalized expression</text>
<text x="9" y="222" font-size="13" text-anchor="start" font-weight="bold" fill="#111111" stroke="#111111" stroke-width="0.2">c</text>
<rect x="291" y="66" width="5.5" height="5.5" fill="#4474ac"/>
<text x="298.5" y="71.4" font-size="9.3" text-anchor="start" font-weight="normal" fill="#111111" textLength="30.2" lengthAdjust="spacingAndGlyphs" stroke="#111111" stroke-width="0.25">Stage 1</text>
<rect x="291" y="84.68" width="5.5" height="5.5" fill="#af4542"/>
<text x="298.5" y="90.08" font-size="9.3" text-anchor="start" font-weight="normal" fill="#111111" textLength="30.2" lengthAdjust="spacingAndGlyphs" stroke="#111111" stroke-width="0.25">Stage 2</text>
<rect x="291" y="103.36" width="5.5" height="5.5" fill="#8caa4d"/>
<text x="298.5" y="108.76" font-size="9.3" text-anchor="start" font-weight="normal" fill="#111111" textLength="30.2" lengthAdjust="spacingAndGlyphs" stroke="#111111" stroke-width="0.25">Stage 3</text>
<rect x="291" y="122.04" width="5.5" height="5.5" fill="#735893"/>
<text x="298.5" y="127.44" font-size="9.3" text-anchor="start" font-weight="normal" fill="#111111" textLength="30.2" lengthAdjust="spacingAndGlyphs" stroke="#111111" stroke-width="0.25">Stage 4</text>
<rect x="291" y="140.72" width="5.5" height="5.5" fill="#409cb5"/>
<text x="298.5" y="146.12" font-size="9.3" text-anchor="start" font-weight="normal" fill="#111111" textLength="30.2" lengthAdjust="spacingAndGlyphs" stroke="#111111" stroke-width="0.25">Stage 5</text>
<rect x="291" y="159.4" width="5.5" height="5.5" fill="#e2863b"/>
<text x="298.5" y="164.8" font-size="9.3" text-anchor="start" font-weight="normal" fill="#111111" textLength="30.2" lengthAdjust="spacingAndGlyphs" stroke="#111111" stroke-width="0.25">Stage 6</text>
<rect x="1" y="0.7" width="683" height="1.3" fill="#333333"/>
<rect x="1" y="1" width="1" height="397" fill="#333333"/>
<rect x="339" y="1" width="1" height="397" fill="#333333"/>
<rect x="683" y="1" width="1" height="205" fill="#333333"/>
<rect x="1" y="204.7" width="683" height="1.3" fill="#333333"/>
<rect x="1" y="396.6" width="339" height="1.4" fill="#333333"/>
</g>
</svg>
</body></html>
